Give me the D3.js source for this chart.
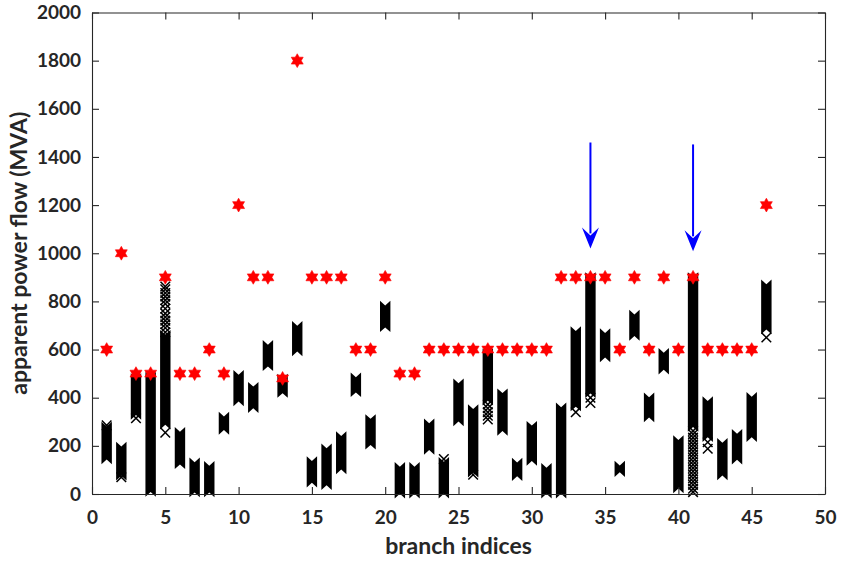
<!DOCTYPE html>
<html><head><meta charset="utf-8">
<script src="https://cdn.jsdelivr.net/npm/d3@7"></script>
<style>
body{margin:0;background:#fff}
svg{display:block}
</style>
</head><body><svg id="c" width="843" height="562"></svg>
<script>
// ---- data ----
const branches = [1,2,3,4,5,6,7,8,9,10,11,12,13,14,15,16,17,18,19,20,21,22,23,24,25,26,27,28,29,30,31,32,33,34,35,36,37,38,39,40,41,42,43,44,45,46];
const limits = [600,1000,500,500,900,500,500,600,500,1200,900,900,480,1800,900,900,900,600,600,900,500,500,600,600,600,600,600,600,600,600,600,900,900,900,900,600,900,600,900,600,900,600,600,600,600,1200];
const flowMin = [145,78,330,10,290,125,8,8,268,386,358,532,421,594,49,38,104,424,206,694,3,3,185,3,303,90,389,264,76,139,3,3,365,420,569,92,658,320,518,25,280,238,79,144,238,685];
const flowMax = [278,195,480,485,660,257,130,115,320,493,444,618,478,697,135,188,239,483,310,781,111,111,292,132,458,351,583,417,129,282,107,358,675,900,667,116,744,400,585,222,900,384,211,248,402,869];
const outliers = [
  [1,285],[2,70],[3,315],
  [5,672],[5,690],[5,705],[5,720],[5,735],[5,750],[5,770],[5,790],[5,805],[5,820],[5,835],[5,850],[5,862],[5,255],
  [24,145],[26,80],
  [27,372],[27,356],[27,340],[27,325],[27,310],
  [33,340],[34,400],[34,378],
  [41,262],[41,248],[41,234],[41,220],[41,206],[41,192],[41,178],[41,164],[41,150],[41,136],[41,122],[41,108],[41,94],[41,80],[41,66],[41,52],[41,38],[41,22],[41,8],
  [42,215],[42,188],[46,650]
];
const arrowBranch = [34, 41];
const arrowFrom = [1460, 1452];
const arrowTo = [1020, 1008];
const xTicks = [0,5,10,15,20,25,30,35,40,45,50];
const yTicks = [0,200,400,600,800,1000,1200,1400,1600,1800,2000];
const xLabel = "branch indices";
const yLabel = "apparent power flow (MVA)";

// ---- chart ----
const svg = d3.select("#c");
const L = 92, R = 825, T = 12.5, B = 494;
const x = d3.scaleLinear().domain([0,50]).range([L,R]);
const y = d3.scaleLinear().domain([0,2000]).range([B,T]);
const axisColor = "#262626";
const FONT = "Lato, 'Open Sans', sans-serif";

// bars (stacked x markers look)
const hw = 5.2;
const bars = svg.append("g");
branches.forEach((b,i)=>{
  const cx = x(b), yt = y(flowMax[i]), yb = y(flowMin[i]);
  const p = `M${cx-hw},${yt-hw} L${cx},${yt-0.5} L${cx+hw},${yt-hw} L${cx+hw},${yb+hw} L${cx},${yb+0.5} L${cx-hw},${yb+hw} Z`;
  bars.append("path").attr("d",p).attr("fill","#000");
});
// sparse x markers
const xm = 4.8;
svg.append("g").selectAll("path").data(outliers).join("path")
  .attr("d",d=>{const cx=x(d[0]), cy=y(d[1]);
    return `M${cx-xm},${cy-xm}L${cx+xm},${cy+xm}M${cx-xm},${cy+xm}L${cx+xm},${cy-xm}`;})
  .attr("stroke","#000").attr("stroke-width",1.5).attr("fill","none");

// hexagram stars
function hexagram(cx,cy,Ro){
  const Ri = Ro/Math.sqrt(3);
  const pts=[];
  for(let k=0;k<12;k++){
    const a = -Math.PI/2 + k*Math.PI/6;
    const r = k%2===0?Ro:Ri;
    pts.push([cx+r*Math.cos(a), cy+r*Math.sin(a)]);
  }
  return "M"+pts.map(p=>p.join(",")).join("L")+"Z";
}
svg.append("g").selectAll("path").data(branches).join("path")
  .attr("d",(b,i)=>hexagram(x(b),y(limits[i]),6.9))
  .attr("fill","#ff0000").attr("stroke","#ff0000").attr("stroke-width",0.6);

// axes
const fmt = d3.format("d");
const gx = svg.append("g").attr("transform",`translate(0,${B})`)
  .call(d3.axisBottom(x).tickValues(xTicks).tickFormat(fmt).tickSizeInner(-7).tickSizeOuter(0).tickPadding(16.5));
const gy = svg.append("g").attr("transform",`translate(${L},0)`)
  .call(d3.axisLeft(y).tickValues(yTicks).tickFormat(fmt).tickSizeInner(-7).tickSizeOuter(0).tickPadding(11));
const gt = svg.append("g").attr("transform",`translate(0,${T})`)
  .call(d3.axisTop(x).tickValues(xTicks).tickSizeInner(-7).tickSizeOuter(0).tickFormat(""));
const gr = svg.append("g").attr("transform",`translate(${R},0)`)
  .call(d3.axisRight(y).tickValues(yTicks).tickSizeInner(-7).tickSizeOuter(0).tickFormat(""));
[gx,gy,gt,gr].forEach(g=>{
  g.selectAll("path,line").attr("stroke",axisColor).attr("stroke-width",1.1);
  g.selectAll("text").attr("fill",axisColor).attr("font-family",FONT).attr("font-weight","bold").attr("font-size",19);
});

// arrows
const ag = svg.append("g");
arrowBranch.forEach((b,i)=>{
  const cx = x(b), y0 = y(arrowFrom[i]), y1 = y(arrowTo[i]);
  const hl = 21, hwid = 8.5;
  ag.append("line").attr("x1",cx).attr("x2",cx).attr("y1",y0).attr("y2",y1-hl+6)
    .attr("stroke","#0000ff").attr("stroke-width",2);
  ag.append("path")
    .attr("d",`M${cx},${y1} L${cx-hwid},${y1-hl} L${cx},${y1-hl*0.62} L${cx+hwid},${y1-hl} Z`)
    .attr("fill","#0000ff");
});

// labels
svg.append("text").attr("x",(L+R)/2).attr("y",554).attr("text-anchor","middle")
  .attr("font-family",FONT).attr("font-weight","bold").attr("font-size",23).attr("fill",axisColor)
  .text(xLabel);
svg.append("text").attr("transform",`translate(27,${(T+B)/2}) rotate(-90)`).attr("text-anchor","middle")
  .attr("font-family",FONT).attr("font-weight","bold").attr("font-size",23).attr("fill",axisColor)
  .text(yLabel);
</script>
</body></html>
